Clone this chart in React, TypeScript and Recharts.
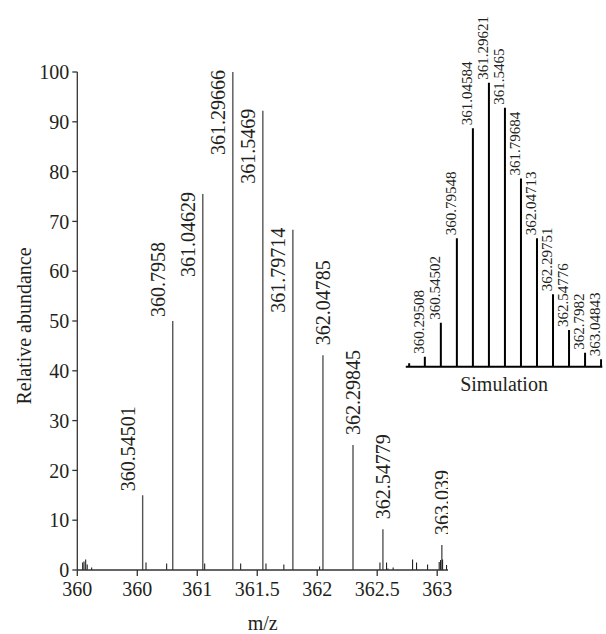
import React from "react";
import { ComposedChart, Bar, XAxis, YAxis, Label } from "recharts";

// measured spectrum: labelled isotope peaks
const mainMz = [360.54501, 360.7958, 361.04629, 361.29666, 361.5469, 361.79714, 362.04785, 362.29845, 362.54779, 363.039];
const mainAbundance = [15, 50, 75.5, 100, 92.2, 68.3, 43.1, 25.1, 8.2, 5];
const mainLabels = ["360.54501", "360.7958", "361.04629", "361.29666", "361.5469", "361.79714", "362.04785", "362.29845", "362.54779", "363.039"];

// small unlabelled noise peaks
const noiseMz = [360.045, 360.056, 360.07, 360.083, 360.12, 360.573, 360.745, 361.062, 361.362, 361.573, 361.722, 362.02, 362.523, 362.578, 362.59, 362.633, 362.795, 362.828, 362.92, 363.017, 363.028, 363.045, 363.078];
const noiseAbundance = [1.5, 1.7, 2.1, 1.1, 0.5, 1.5, 1.3, 1.3, 1.3, 1.3, 1.1, 0.7, 1.5, 1.5, 0.3, 0.5, 2.1, 1.5, 1.1, 1.6, 2, 2.1, 1];

// simulated pattern (inset)
const simMz = [360.05, 360.29508, 360.54502, 360.79548, 361.04584, 361.29621, 361.5465, 361.79684, 362.04713, 362.29751, 362.54776, 362.7982, 363.04843];
const simAbundance = [1.2, 3.5, 15.5, 45.2, 84, 100, 91.2, 66.3, 45.2, 25.5, 12.9, 4.9, 2.6];
const simLabels = ["", "360.29508", "360.54502", "360.79548", "361.04584", "361.29621", "361.5465", "361.79684", "362.04713", "362.29751", "362.54776", "362.7982", "363.04843"];

const xTicks = [360, 360.5, 361, 361.5, 362, 362.5, 363];
const xTickLabels = ["360", "360", "361", "361.5", "362", "362.5", "363"];
const yTicks = [0, 10, 20, 30, 40, 50, 60, 70, 80, 90, 100];

const FONT = '"Liberation Serif", "Times New Roman", serif';
const INK = "#231f20";

const apexMz = mainMz[mainAbundance.indexOf(Math.max(...mainAbundance))];

const spectrum = [
  ...mainMz.map((mz, i) => ({ mz, abundance: mainAbundance[i], label: mainLabels[i] })),
  ...noiseMz.map((mz, i) => ({ mz, abundance: noiseAbundance[i], label: "" })),
].sort((a, b) => a.mz - b.mz);

const simulation = simMz.map((mz, i) => ({ mz, abundance: simAbundance[i], label: simLabels[i] }));

function MeasuredPeak(props: any) {
  const { x, y, width, height, payload } = props;
  if (x == null || y == null) return null;
  const cx = x + width / 2;
  const major = payload.label !== "";

  // tall peaks carry the label alongside, the rest sit above the stick
  let tx = cx - 8;
  let ty = y - 4;
  let anchor = "start";
  if (payload.abundance > 60) {
    ty = y - 2;
    anchor = "end";
  } else if (payload.mz > apexMz) {
    tx = cx + 7;
    ty = y - 10;
  }

  return (
    <g>
      <line x1={cx} x2={cx} y1={y} y2={y + height} stroke={major ? "#555" : "#222"} strokeWidth={major ? 1.4 : 1.1} />
      {major && (
        <text x={tx} y={ty} transform={`rotate(-90 ${tx} ${ty})`} textAnchor={anchor} fontSize={20} fontFamily={FONT} fill={INK}>
          {payload.label}
        </text>
      )}
    </g>
  );
}

function SimPeak(props: any) {
  const { x, y, width, height, payload } = props;
  if (x == null || y == null) return null;
  const cx = x + width / 2;
  const tx = cx - 1;
  const ty = y - 3;
  return (
    <g>
      <line x1={cx} x2={cx} y1={y} y2={y + height} stroke="#000" strokeWidth={2} />
      {payload.label && (
        <text x={tx} y={ty} transform={`rotate(-90 ${tx} ${ty})`} textAnchor="start" fontSize={15} fontFamily={FONT} fill={INK}>
          {payload.label}
        </text>
      )}
    </g>
  );
}

function MainSpectrum() {
  return (
    <ComposedChart width={606} height={634} data={spectrum} margin={{ top: 72, right: 158, bottom: 0, left: 0 }}>
      <XAxis
        type="number"
        dataKey="mz"
        domain={[360, 363.09]}
        ticks={xTicks}
        tickFormatter={(v: number) => xTickLabels[xTicks.indexOf(v)] ?? String(v)}
        allowDataOverflow
        height={64}
        tickSize={6}
        tickMargin={6}
        axisLine={{ stroke: "#333", strokeWidth: 1.3 }}
        tickLine={{ stroke: "#333", strokeWidth: 1.3 }}
        tick={{ fontSize: 20, fontFamily: FONT, fill: INK }}
      >
        <Label value="m/z" position="insideBottom" offset={4} style={{ fontSize: 20, fontFamily: FONT, fill: INK }} />
      </XAxis>
      <YAxis
        type="number"
        domain={[0, 100]}
        ticks={yTicks}
        width={77.3}
        tickSize={5}
        tickMargin={3}
        axisLine={{ stroke: "#333", strokeWidth: 1.3 }}
        tickLine={{ stroke: "#333", strokeWidth: 1.3 }}
        tick={{ fontSize: 20, fontFamily: FONT, fill: INK }}
      >
        <Label
          content={(p: any) => {
            const vb = p.viewBox || { x: 0, y: 72, height: 498 };
            const lx = vb.x + 31;
            const ly = vb.y + vb.height / 2 + 5;
            return (
              <text x={lx} y={ly} transform={`rotate(-90 ${lx} ${ly})`} textAnchor="middle" fontSize={20} fontFamily={FONT} fill={INK}>
                Relative abundance
              </text>
            );
          }}
        />
      </YAxis>
      <Bar dataKey="abundance" barSize={2} shape={<MeasuredPeak />} isAnimationActive={false} />
    </ComposedChart>
  );
}

function SimulationInset() {
  return (
    <ComposedChart width={606} height={634} data={simulation} margin={{ top: 82.7, right: 3.7, bottom: 237.3, left: 405.8 }}>
      <XAxis
        type="number"
        dataKey="mz"
        domain={[360, 363.07]}
        allowDataOverflow
        height={30}
        tick={false}
        tickLine={false}
        axisLine={{ stroke: "#000", strokeWidth: 2 }}
      >
        <Label
          content={(p: any) => {
            const vb = p.viewBox || { x: 405.8, y: 366.7, width: 196.5 };
            return (
              <text x={vb.x + vb.width / 2} y={vb.y + 24} textAnchor="middle" fontSize={20} fontFamily={FONT} fill={INK}>
                Simulation
              </text>
            );
          }}
        />
      </XAxis>
      <YAxis type="number" domain={[0, 100]} hide />
      <Bar dataKey="abundance" barSize={2} shape={<SimPeak />} isAnimationActive={false} />
    </ComposedChart>
  );
}

export default function App() {
  return (
    <div style={{ position: "absolute", left: 0, top: 0, width: 606, height: 634, background: "#fff" }}>
      <div style={{ position: "absolute", left: 0, top: 0 }}>
        <MainSpectrum />
      </div>
      <div style={{ position: "absolute", left: 0, top: 0 }}>
        <SimulationInset />
      </div>
    </div>
  );
}
